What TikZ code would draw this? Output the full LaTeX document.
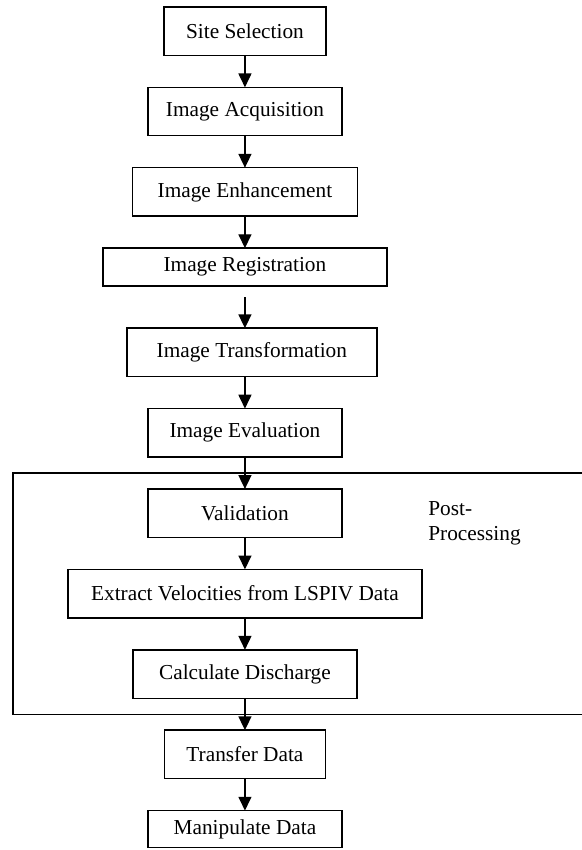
\documentclass[tikz,border=0pt]{standalone}
\usepackage{fontspec}
\setmainfont{Liberation Serif}
\usetikzlibrary{arrows.meta,positioning,calc}

\begin{document}
\begin{tikzpicture}[node distance=18pt, every node/.style={font=\fontsize{12pt}{14pt}\selectfont},
  stage/.style={draw,line width=0.8pt,minimum height=27.3pt,inner sep=2pt,outer sep=0pt},
  flow/.style={line width=0.8pt,-{Triangle[length=7.8pt,width=7.3pt]}}]
\useasboundingbox (0,0) rectangle (327.9pt,-478.9pt);
\node[stage,minimum width=91.3pt,anchor=north] (site) at (138pt,-3.9pt) {Site Selection};
\node[stage,below=of site,minimum width=109.3pt] (acq) {Image Acquisition};
\node[stage,below=of acq,minimum width=126.8pt] (enh) {Image Enhancement};
\node[stage,below=of enh,minimum width=160pt,minimum height=21.4pt] (reg) {Image Registration};
\node[stage,below=23.7pt of reg,xshift=3.9pt,minimum width=140.9pt] (trans) {Image Transformation};
\node[stage,below=of trans,xshift=-3.9pt,minimum width=109.3pt] (eval) {Image Evaluation};
\node[stage,below=of eval,minimum width=109.3pt] (valid) {Validation};
\node[stage,below=of valid,minimum width=199.4pt] (extract) {Extract Velocities from LSPIV Data};
\node[stage,below=of extract,minimum width=126.2pt] (disch) {Calculate Discharge};
\node[stage,below=of disch,minimum width=90.7pt] (transfer) {Transfer Data};
\node[stage,below=of transfer,minimum width=109.3pt,minimum height=20.8pt] (manip) {Manipulate Data};

% post-processing frame, open on the right
\coordinate (ppL) at (7.3pt,0);
\coordinate (ppR) at (327.9pt,0);
\coordinate (pptop) at ($(eval.south)!0.5!(valid.north)$);
\coordinate (ppbot) at ($(disch.south)!0.5!(transfer.north)$);
\draw[line width=0.8pt] (pptop -| ppR) -- (pptop -| ppL) -- (ppbot -| ppL) -- (ppbot -| ppR);
\node[anchor=north west,align=left,inner sep=0pt] (pplabel) at ($(valid.north east)+(48.5pt,-6.8pt)$) {Post-\\Processing};

\draw[flow] (site) -- (acq);
\draw[flow] (acq) -- (enh);
\draw[flow] (enh) -- (reg);
\draw[flow,shorten <=6.2pt] (reg) -- (trans.north -| reg.south);
\draw[flow] (trans.south -| eval.north) -- (eval);
\draw[flow] (eval) -- (valid);
\draw[flow] (valid) -- (extract);
\draw[flow] (extract) -- (disch);
\draw[flow] (disch) -- (transfer);
\draw[flow] (transfer) -- (manip);
\end{tikzpicture}
\end{document}
